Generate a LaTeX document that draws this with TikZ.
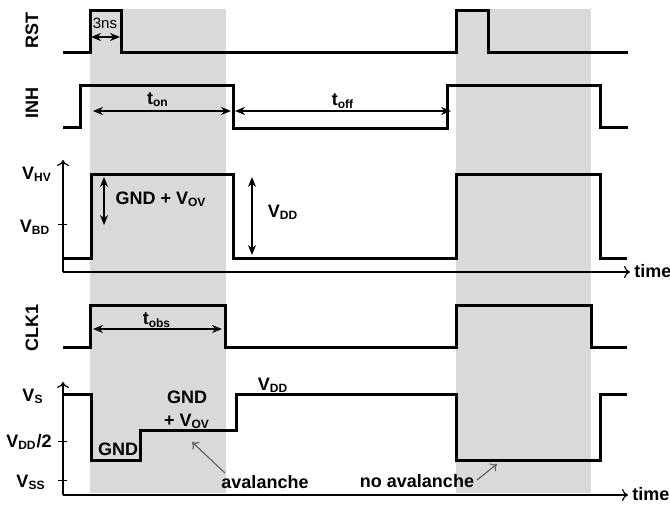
\documentclass[tikz,border=0pt]{standalone}
\usepackage{fontspec}
\setmainfont{Liberation Sans}
\usetikzlibrary{arrows.meta}
\tikzset{
 wave/.style={line width=1.5pt},
 axisline/.style={line width=.6pt,-{To[length=3pt,width=6pt]}},
 axtick/.style={line width=.5pt},
 dimarrow/.style={line width=.7pt,{Stealth[length=5pt,width=4pt]}-{Stealth[length=5pt,width=4pt]}},
 pointer/.style={draw=black!60,line width=.6pt,-{To[length=3pt,width=5pt]}},
 siglabel/.style={font=\fontsize{9}{10}\selectfont\bfseries,rotate=90},
 lbl/.style={font=\fontsize{9}{10}\selectfont\bfseries,inner sep=1pt},
 small/.style={font=\fontsize{7.5}{8}\selectfont,inner sep=1pt},
 shade/.style={fill=black!15}
}

\begin{document}
\begin{tikzpicture}[x=.5pt,y=-.5pt]
\useasboundingbox (0,0) rectangle (670,504);
\fill[shade] (90,9) rectangle (226,493);
\fill[shade] (456,9) rectangle (591,493);
\node[siglabel] (rst) at (32,30) {RST};
\node[siglabel] (inh) at (32,103) {INH};
\node[siglabel] (clk) at (32,328) {CLK1};
\draw[wave] (63,52) -- (90,52) -- (90,10) -- (121,10) -- (121,52) -- (456,52) -- (456,10) -- (488,10) -- (488,52) -- (628,52);
\coordinate (ns1) at (91,37);
\coordinate (ns2) at (120,37);
\draw[dimarrow] (ns1) -- (ns2);
\node[small] (nslbl) at (105,23) {3ns};
\draw[wave] (63,127) -- (80,127) -- (80,85) -- (233,85) -- (233,128) -- (447,128) -- (447,85) -- (600,85) -- (600,127) -- (628,127);
\coordinate (on1) at (93,111);
\coordinate (on2) at (231,111);
\coordinate (off1) at (235,111);
\coordinate (off2) at (451,111);
\draw[dimarrow] (on1) -- (on2);
\draw[dimarrow] (off1) -- (off2);
\node[lbl] (ton) at (158,100) {t\textsubscript{on}};
\node[lbl] (toff) at (343,101) {t\textsubscript{off}};
\coordinate (o1) at (63,272);
\coordinate (yv) at (63,160);
\coordinate (tv) at (630,272);
\draw[axisline] (o1) -- (yv);
\draw[axisline] (o1) -- (tv);
\node[lbl,anchor=west] (time1) at (632,271) {time};
\draw[axtick] (58,224) -- (67,224);
\node[lbl] (vhv) at (37,174) {V\textsubscript{HV}};
\node[lbl] (vbd) at (35,227) {V\textsubscript{BD}};
\draw[wave] (63,258) -- (91,258) -- (91,174) -- (233,174) -- (233,258) -- (456,258) -- (456,174) -- (600,174) -- (600,258) -- (627,258);
\coordinate (ov1) at (104,177);
\coordinate (ov2) at (104,225);
\coordinate (dd1) at (252,177);
\coordinate (dd2) at (252,255);
\draw[dimarrow] (ov1) -- (ov2);
\draw[dimarrow] (dd1) -- (dd2);
\node[lbl] (gndov) at (161,199) {GND + V\textsubscript{OV}};
\node[lbl] (vdd1) at (283,212) {V\textsubscript{DD}};
\draw[wave] (63,347) -- (90,347) -- (90,305) -- (225,305) -- (225,347) -- (456,347) -- (456,305) -- (591,305) -- (591,347) -- (627,347);
\coordinate (obs1) at (93,329);
\coordinate (obs2) at (222,329);
\draw[dimarrow] (obs1) -- (obs2);
\node[lbl] (tobs) at (157,320) {t\textsubscript{obs}};
\coordinate (o2) at (63,495);
\coordinate (ys) at (63,382);
\coordinate (ts) at (628,495);
\draw[axisline] (o2) -- (ys);
\draw[axisline] (o2) -- (ts);
\node[lbl,anchor=west] (time2) at (630,494) {time};
\draw[axtick] (58,441) -- (67,441);
\draw[axtick] (58,480) -- (67,480);
\node[lbl] (vs) at (33,396) {V\textsubscript{S}};
\node[lbl] (vdd2) at (29,442) {V\textsubscript{DD}/2};
\node[lbl] (vss) at (31,482) {V\textsubscript{SS}};
\draw[wave] (63,394) -- (91,394) -- (91,460) -- (140,460) -- (140,430) -- (236,430) -- (236,394) -- (456,394) -- (456,460) -- (600,460) -- (600,394) -- (627,394);
\node[lbl] (gndlow) at (118,449) {GND};
\node[lbl] (gndhi) at (187,397) {GND};
\node[lbl] (plusov) at (187,421) {+ V\textsubscript{OV}};
\node[lbl] (vdd3) at (273,385) {V\textsubscript{DD}};
\node[lbl] (aval) at (265,482) {avalanche};
\node[lbl] (noaval) at (417,481) {no avalanche};
\coordinate (av1) at (225,473);
\coordinate (av2) at (192,442);
\coordinate (na1) at (477,480);
\coordinate (na2) at (497,464);
\draw[pointer] (av1) -- (av2);
\draw[pointer] (na1) -- (na2);
\end{tikzpicture}
\end{document}
